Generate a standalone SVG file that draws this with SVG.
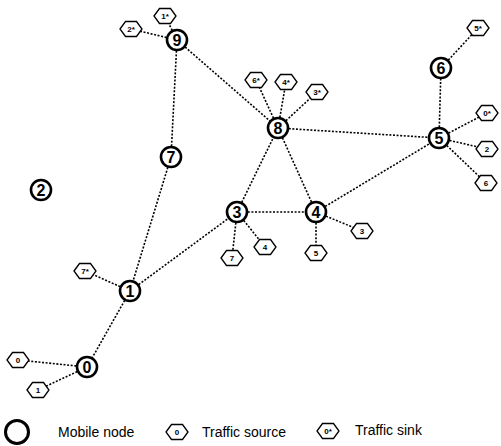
<svg xmlns="http://www.w3.org/2000/svg" xmlns:xlink="http://www.w3.org/1999/xlink" width="501" height="446" viewBox="0 0 501 446">
<style>
.e{stroke:#000;stroke-width:1.6;stroke-dasharray:2 1.6;fill:none}
.n{fill:#fff;stroke:#000;stroke-width:2.6}
.nt{font-family:"Liberation Sans",Arial,sans-serif;font-size:16px;font-weight:bold;text-anchor:middle;fill:#000}
.h{fill:#fff;stroke:#000;stroke-width:1.3}
.ht{font-family:"Liberation Sans",Arial,sans-serif;font-size:8px;font-weight:bold;text-anchor:middle;fill:#000}
.lt{font-family:"Liberation Sans",Arial,sans-serif;font-size:14px;fill:#000}
</style>
<defs>
<polygon id="hex" points="-11,0 -5.5,-7.5 5.5,-7.5 11,0 5.5,7.5 -5.5,7.5"/>
</defs>
<rect width="501" height="446" fill="#fff"/>
<g id="connectors">
<line class="e" x1="177" y1="40" x2="131" y2="29"/>
<line class="e" x1="177" y1="40" x2="165" y2="16"/>
<line class="e" x1="177" y1="40" x2="278" y2="128"/>
<line class="e" x1="177" y1="40" x2="171" y2="157"/>
<line class="e" x1="171" y1="157" x2="130" y2="291"/>
<line class="e" x1="130" y1="291" x2="85" y2="271"/>
<line class="e" x1="130" y1="291" x2="237" y2="212"/>
<line class="e" x1="130" y1="291" x2="87" y2="367"/>
<line class="e" x1="87" y1="367" x2="18" y2="360"/>
<line class="e" x1="87" y1="367" x2="38" y2="390"/>
<line class="e" x1="237" y1="212" x2="278" y2="128"/>
<line class="e" x1="237" y1="212" x2="316" y2="212"/>
<line class="e" x1="237" y1="212" x2="232" y2="258"/>
<line class="e" x1="237" y1="212" x2="265" y2="247"/>
<line class="e" x1="278" y1="128" x2="316" y2="212"/>
<line class="e" x1="278" y1="128" x2="439" y2="138"/>
<line class="e" x1="278" y1="128" x2="256" y2="80"/>
<line class="e" x1="278" y1="128" x2="286" y2="82"/>
<line class="e" x1="278" y1="128" x2="317" y2="92"/>
<line class="e" x1="316" y1="212" x2="439" y2="138"/>
<line class="e" x1="316" y1="212" x2="316" y2="253"/>
<line class="e" x1="316" y1="212" x2="362" y2="231"/>
<line class="e" x1="439" y1="138" x2="441" y2="68"/>
<line class="e" x1="441" y1="68" x2="478" y2="28"/>
<line class="e" x1="439" y1="138" x2="487" y2="113"/>
<line class="e" x1="439" y1="138" x2="487" y2="149"/>
<line class="e" x1="439" y1="138" x2="486" y2="183"/>
</g>
<g id="node-9"><circle class="n" cx="177" cy="40" r="10"/><text class="nt" x="177" y="45.8">9</text></g>
<g id="node-8"><circle class="n" cx="278" cy="128" r="10"/><text class="nt" x="278" y="133.8">8</text></g>
<g id="node-6"><circle class="n" cx="441" cy="68" r="10"/><text class="nt" x="441" y="73.8">6</text></g>
<g id="node-5"><circle class="n" cx="439" cy="138" r="10"/><text class="nt" x="439" y="143.8">5</text></g>
<g id="node-7"><circle class="n" cx="171" cy="157" r="10"/><text class="nt" x="171" y="162.8">7</text></g>
<g id="node-2"><circle class="n" cx="41" cy="190" r="10"/><text class="nt" x="41" y="195.8">2</text></g>
<g id="node-3"><circle class="n" cx="237" cy="212" r="10"/><text class="nt" x="237" y="217.8">3</text></g>
<g id="node-4"><circle class="n" cx="316" cy="212" r="10"/><text class="nt" x="316" y="217.8">4</text></g>
<g id="node-1"><circle class="n" cx="130" cy="291" r="10"/><text class="nt" x="130" y="296.8">1</text></g>
<g id="node-0"><circle class="n" cx="87" cy="367" r="10"/><text class="nt" x="87" y="372.8">0</text></g>
<g id="sink-2s"><use xlink:href="#hex" class="h" x="131" y="29"/><text class="ht" x="131" y="32">2*</text></g>
<g id="sink-1s"><use xlink:href="#hex" class="h" x="165" y="16"/><text class="ht" x="165" y="19">1*</text></g>
<g id="sink-6s"><use xlink:href="#hex" class="h" x="256" y="80"/><text class="ht" x="256" y="83">6*</text></g>
<g id="sink-4s"><use xlink:href="#hex" class="h" x="286" y="82"/><text class="ht" x="286" y="85">4*</text></g>
<g id="sink-3s"><use xlink:href="#hex" class="h" x="317" y="92"/><text class="ht" x="317" y="95">3*</text></g>
<g id="sink-5s"><use xlink:href="#hex" class="h" x="478" y="28"/><text class="ht" x="478" y="31">5*</text></g>
<g id="sink-0s"><use xlink:href="#hex" class="h" x="487" y="113"/><text class="ht" x="487" y="116">0*</text></g>
<g id="src-2"><use xlink:href="#hex" class="h" x="487" y="149"/><text class="ht" x="487" y="152">2</text></g>
<g id="src-6"><use xlink:href="#hex" class="h" x="486" y="183"/><text class="ht" x="486" y="186">6</text></g>
<g id="src-7"><use xlink:href="#hex" class="h" x="232" y="258"/><text class="ht" x="232" y="261">7</text></g>
<g id="src-4"><use xlink:href="#hex" class="h" x="265" y="247"/><text class="ht" x="265" y="250">4</text></g>
<g id="src-5"><use xlink:href="#hex" class="h" x="316" y="253"/><text class="ht" x="316" y="256">5</text></g>
<g id="src-3"><use xlink:href="#hex" class="h" x="362" y="231"/><text class="ht" x="362" y="234">3</text></g>
<g id="sink-7s"><use xlink:href="#hex" class="h" x="85" y="271"/><text class="ht" x="85" y="274">7*</text></g>
<g id="src-0"><use xlink:href="#hex" class="h" x="18" y="360"/><text class="ht" x="18" y="363">0</text></g>
<g id="src-1"><use xlink:href="#hex" class="h" x="38" y="390"/><text class="ht" x="38" y="393">1</text></g>
<g id="legend">
<circle cx="17" cy="432" r="11.5" fill="#fff" stroke="#000" stroke-width="3"/>
<text class="lt" x="58" y="437">Mobile node</text>
<use xlink:href="#hex" class="h" x="177" y="432"/><text class="ht" x="177" y="435">0</text>
<text class="lt" x="202" y="437">Traffic source</text>
<use xlink:href="#hex" class="h" x="328" y="431"/><text class="ht" x="328" y="434">0*</text>
<text class="lt" x="355" y="435">Traffic sink</text>
</g>
</svg>
